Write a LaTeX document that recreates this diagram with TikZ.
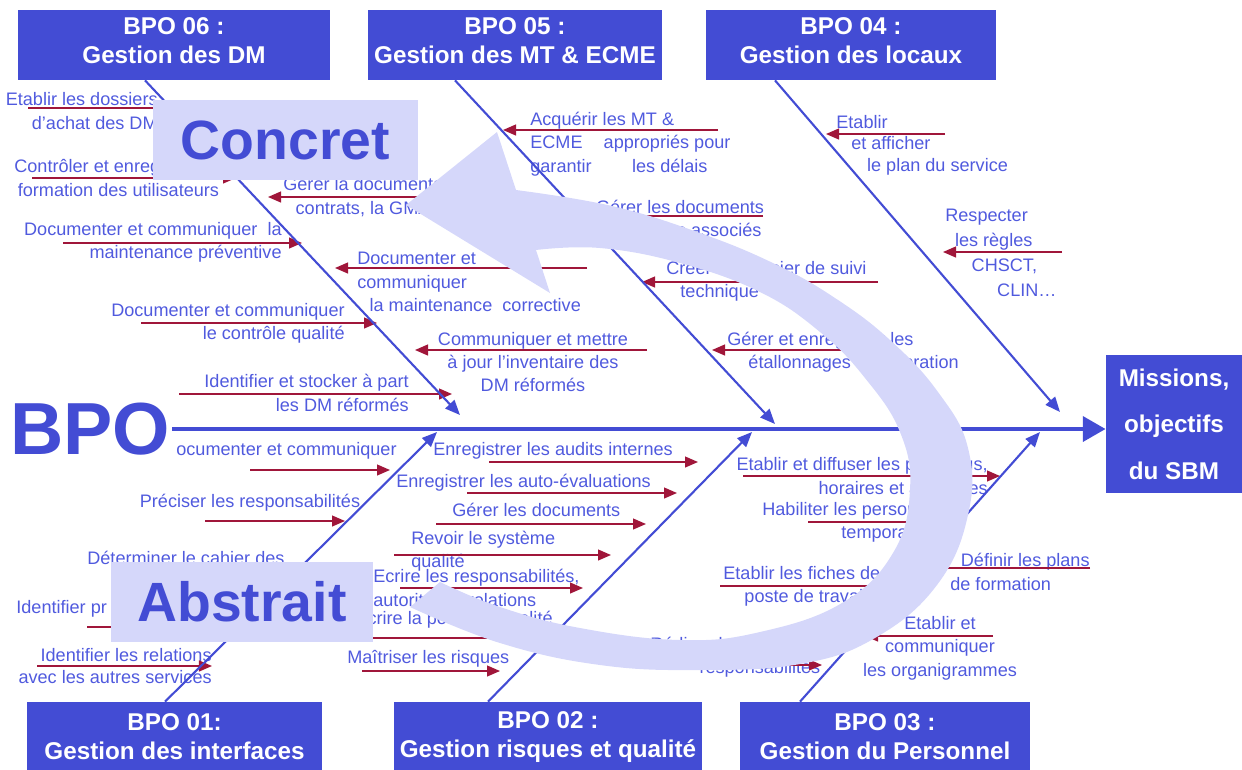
\documentclass[tikz,border=0pt]{standalone}
\usepackage{fontspec}
\setmainfont{Liberation Sans}
\usetikzlibrary{arrows.meta,calc}

\definecolor{boxblue}{RGB}{67,76,212}
\definecolor{txtblue}{RGB}{80,90,222}
\definecolor{causered}{RGB}{160,22,58}
\definecolor{lavender}{RGB}{213,215,250}

\begin{document}
\begin{tikzpicture}[x=0.02cm,y=-0.02cm,
  lbl/.style={font=\fontsize{10.3}{13.3}\selectfont,text=txtblue,inner sep=0pt},
  bpo box/.style={fill=boxblue,text=white,align=center,inner sep=0pt,
    font=\fontsize{13.8}{16.5}\selectfont\bfseries,minimum height=1.4cm},
  tag box/.style={fill=lavender,text=boxblue,inner sep=0pt,minimum height=1.6cm,
    font=\fontsize{31.5}{32}\selectfont\bfseries},
  cause/.style={draw=causered,line width=0.85pt,-{Triangle[length=7.4pt,width=6.2pt]}},
  bone/.style={draw=boxblue,line width=1.2pt,-{Triangle[length=8.5pt,width=7pt]}},
  spine/.style={draw=boxblue,line width=2.8pt,-{Triangle[length=13pt,width=14pt]}}]

  \useasboundingbox (0,0) rectangle (1242,769);

  %BPO 06 causes%
  \node[lbl,anchor=east,align=right] (t1) at (158,111) {Etablir les dossiers\\d'achat des DM};
  \node[lbl,anchor=west,align=left] (t2) at (14,178) {Contrôler et enreg\\\hspace*{2pt}formation des utilisateurs};
  \node[lbl,anchor=east,align=right] (t3) at (282,242) {Documenter et communiquer\ \ la\\maintenance préventive};
  \node[lbl,anchor=east,align=right] (t4) at (345,323) {Documenter et communiquer\\le contrôle qualité};
  \node[lbl,anchor=east,align=right] (t5) at (409,393) {Identifier et stocker à part\\les DM réformés};
  \node[lbl,anchor=west,align=left] (t6) at (283,197) {Gérer la documentation, les\\\hspace*{7pt}contrats, la GMAO};
  \node[lbl,anchor=west,align=left] (t7) at (357,282) {Documenter et\\communiquer\\\hspace*{7pt}la maintenance\ \ corrective};
  \node[lbl,align=center] (t8) at (533,362) {Communiquer et mettre\\à jour l'inventaire des\\DM réformés};

  %BPO 05 and BPO 04 causes%
  \node[lbl,anchor=west,align=left] (t9) at (530,144) {Acquérir les MT \&\\ECME\hspace{12pt}appropriés pour\\garantir\hspace{23pt}les délais};
  \node[lbl,align=center] (t10) at (680,220) {Gérer les documents\\techniques associés};
  \node[lbl,anchor=west,align=left] (t11) at (666,281) {Créer un dossier de suivi\\\hspace*{8pt}technique};
  \node[lbl,anchor=west,align=left] (t12) at (727,352) {Gérer et enregistrer les\\\hspace*{12pt}étallonnages et calibration};
  \node[lbl,anchor=west,align=left] (t13) at (836,145) {Etablir\\[-1pt]\hspace*{8.5pt}et afficher\\[-1pt]\hspace*{17.5pt}le plan du service};
  \node[lbl,anchor=west,align=left] (t14) at (945,253) {Respecter\\[1pt]\hspace*{5.5pt}les règles\\[1pt]\hspace*{15pt}CHSCT,\\[1pt]\hspace*{29.5pt}CLIN…};

  %BPO 01 causes%
  \node[lbl,anchor=west] (t15) at (176,451) {ocumenter et communiquer};
  \node[lbl] (t16) at (250,503) {Préciser les responsabilités};
  \node[lbl,anchor=west] (t17) at (87,558) {Déterminer le cahier des};
  \node[lbl,anchor=west] (t18) at (16,609) {Identifier pr};
  \node[lbl,anchor=east,align=right,font=\fontsize{10.3}{12}\selectfont] (t19) at (212,666) {Identifier les relations\\avec les autres services};

  %BPO 02 causes%
  \node[lbl,anchor=west] (t20) at (433,451) {Enregistrer les audits internes};
  \node[lbl,anchor=west] (t21) at (396,483) {Enregistrer les auto-évaluations};
  \node[lbl,anchor=west] (t22) at (452,510) {Gérer les documents};
  \node[lbl,anchor=west,align=left] (t23) at (411,551) {Revoir le système\\qualité};
  \node[lbl,anchor=west,align=left] (t24) at (373,588) {Ecrire les responsabilités,\\autorités et relations};
  \node[lbl,anchor=east] (t25) at (553,620) {Ecrire la politique qualité};
  \node[lbl,anchor=west] (t26) at (347,659) {Maîtriser les risques};

  %BPO 03 causes%
  \node[lbl,anchor=east,align=right] (t27) at (988,476) {Etablir et diffuser les plannings,\\horaires et astreintes};
  \node[lbl,anchor=west,align=left] (t28) at (762,522) {Habiliter les personnels\\\hspace*{45pt}temporaires};
  \node[lbl,anchor=west,align=left] (t29) at (723,586) {Etablir les fiches de\\\hspace*{12pt}poste de travail};
  \node[lbl,anchor=west,align=left] (t30) at (650,657) {Rédiger les fiches de\\\hspace*{28pt}responsabilités};
  \node[lbl,anchor=west,align=left] (t31) at (950,572) {\hspace*{6pt}Définir les plans\\de formation};
  \node[lbl,align=center] (t32) at (940,648) {Etablir et\\communiquer\\les organigrammes};

  %Red arrows towards the bones%
  \coordinate (r1a) at (28,108);   \coordinate (r1b) at (172,108);  \draw[cause] (r1a) -- (r1b);
  \coordinate (r2a) at (32,178);   \coordinate (r2b) at (236,178);  \draw[cause] (r2a) -- (r2b);
  \coordinate (r3a) at (63,243);   \coordinate (r3b) at (302,243);  \draw[cause] (r3a) -- (r3b);
  \coordinate (r4a) at (141,323);  \coordinate (r4b) at (377,323);  \draw[cause] (r4a) -- (r4b);
  \coordinate (r5a) at (179,394);  \coordinate (r5b) at (452,394);  \draw[cause] (r5a) -- (r5b);
  \coordinate (r6a) at (490,197);  \coordinate (r6b) at (268,197);  \draw[cause] (r6a) -- (r6b);
  \coordinate (r7a) at (587,268);  \coordinate (r7b) at (335,268);  \draw[cause] (r7a) -- (r7b);
  \coordinate (r8a) at (647,350);  \coordinate (r8b) at (415,350);  \draw[cause] (r8a) -- (r8b);
  \coordinate (r9a) at (718,130);  \coordinate (r9b) at (503,130);  \draw[cause] (r9a) -- (r9b);
  \coordinate (r10a) at (763,216); \coordinate (r10b) at (590,216); \draw[cause] (r10a) -- (r10b);
  \coordinate (r11a) at (878,282); \coordinate (r11b) at (642,282); \draw[cause] (r11a) -- (r11b);
  \coordinate (r12a) at (880,350); \coordinate (r12b) at (712,350); \draw[cause] (r12a) -- (r12b);
  \coordinate (r13a) at (945,134); \coordinate (r13b) at (826,134); \draw[cause] (r13a) -- (r13b);
  \coordinate (r14a) at (1062,252);\coordinate (r14b) at (943,252); \draw[cause] (r14a) -- (r14b);
  \coordinate (r15a) at (250,470); \coordinate (r15b) at (390,470); \draw[cause] (r15a) -- (r15b);
  \coordinate (r16a) at (205,521); \coordinate (r16b) at (345,521); \draw[cause] (r16a) -- (r16b);
  \coordinate (r17a) at (130,575); \coordinate (r17b) at (290,575); \draw[cause] (r17a) -- (r17b);
  \coordinate (r18a) at (87,627);  \coordinate (r18b) at (240,627); \draw[cause] (r18a) -- (r18b);
  \coordinate (r19a) at (37,666);  \coordinate (r19b) at (212,666); \draw[cause] (r19a) -- (r19b);
  \coordinate (r20a) at (489,462); \coordinate (r20b) at (698,462); \draw[cause] (r20a) -- (r20b);
  \coordinate (r21a) at (467,493); \coordinate (r21b) at (677,493); \draw[cause] (r21a) -- (r21b);
  \coordinate (r22a) at (436,524); \coordinate (r22b) at (646,524); \draw[cause] (r22a) -- (r22b);
  \coordinate (r23a) at (394,555); \coordinate (r23b) at (611,555); \draw[cause] (r23a) -- (r23b);
  \coordinate (r24a) at (400,588); \coordinate (r24b) at (583,588); \draw[cause] (r24a) -- (r24b);
  \coordinate (r25a) at (340,638); \coordinate (r25b) at (540,638); \draw[cause] (r25a) -- (r25b);
  \coordinate (r26a) at (362,671); \coordinate (r26b) at (500,671); \draw[cause] (r26a) -- (r26b);
  \coordinate (r27a) at (743,476); \coordinate (r27b) at (1000,476);\draw[cause] (r27a) -- (r27b);
  \coordinate (r28a) at (808,522); \coordinate (r28b) at (955,522); \draw[cause] (r28a) -- (r28b);
  \coordinate (r29a) at (720,586); \coordinate (r29b) at (900,586); \draw[cause] (r29a) -- (r29b);
  \coordinate (r30a) at (660,665); \coordinate (r30b) at (822,665); \draw[cause] (r30a) -- (r30b);
  \coordinate (r31a) at (1090,568);\coordinate (r31b) at (925,568); \draw[cause] (r31a) -- (r31b);
  \coordinate (r32a) at (993,636); \coordinate (r32b) at (865,636); \draw[cause] (r32a) -- (r32b);

  %The six BPO boxes, the head and the spine%
  \node[bpo box,minimum width=6.24cm] (bpo6) at (174,45) {BPO 06 :\\Gestion des DM\rule[-5pt]{0pt}{0pt}};
  \node[bpo box,minimum width=5.88cm] (bpo5) at (515,45) {BPO 05 :\\Gestion des MT \& ECME\rule[-5pt]{0pt}{0pt}};
  \node[bpo box,minimum width=5.8cm] (bpo4) at (851,45) {BPO 04 :\\Gestion des locaux\rule[-5pt]{0pt}{0pt}};
  \node[bpo box,minimum width=5.9cm] (bpo1) at (174.5,737) {BPO 01:\\Gestion des interfaces};
  \node[bpo box,minimum width=6.16cm] (bpo2) at (548,737) {BPO 02 :\\Gestion risques et qualité};
  \node[bpo box,minimum width=5.8cm] (bpo3) at (885,737) {BPO 03 :\\Gestion du Personnel};
  \node[bpo box,minimum width=2.72cm,minimum height=2.76cm,
    font=\fontsize{13.8}{26.4}\selectfont\bfseries] (missions) at (1174,424) {Missions,\\objectifs\\du SBM};
  \node[text=boxblue,inner sep=1pt,font=\fontsize{42}{42}\selectfont\bfseries] (BPO) at (90,429) {BPO};

  \draw[spine] (BPO.east) -- (BPO.east -| missions.west);

  %Bones%
  \coordinate (b6) at (460,415);
  \coordinate (b5) at (775,424);
  \coordinate (b4) at (1060,412);
  \coordinate (b1) at (437,432);
  \coordinate (b2) at (752,432);
  \coordinate (b3) at (1040,432);
  \draw[bone] ($(bpo6.south)+(-29,0)$) -- (b6);
  \draw[bone] ($(bpo5.south)+(-60,0)$) -- (b5);
  \draw[bone] ($(bpo4.south)+(-76,0)$) -- (b4);
  \draw[bone] ($(bpo1.north)+(-9.5,0)$) -- (b1);
  \draw[bone] ($(bpo2.north)+(-60,0)$) -- (b2);
  \draw[bone] ($(bpo3.north)+(-85,0)$) -- (b3);

  %Big circular arrow from abstract to concrete%
  \fill[lavender] plot[smooth,tension=0.7] coordinates {(410,607) (500,643) (600,665)
      (700,670) (800,664) (875,638) (937,585) (968,515) (968,448) (938,392) (890,340)
      (835,298) (775,264) (700,233) (612,206) (516,190)}
    -- (497,132) -- (406,205) -- (550,293)
    -- plot[smooth,tension=0.7] coordinates {(536,250) (600,248) (680,263) (760,292)
      (820,332) (865,378) (900,432) (910,490) (893,553) (842,603) (760,632) (680,640)
      (580,628) (500,607) (440,582)}
    -- cycle;

  \node[tag box,minimum width=5.3cm] (concret) at (285.5,140) {Concret};
  \node[tag box,minimum width=5.24cm] (abstrait) at (242,602) {Abstrait};

\end{tikzpicture}
\end{document}
